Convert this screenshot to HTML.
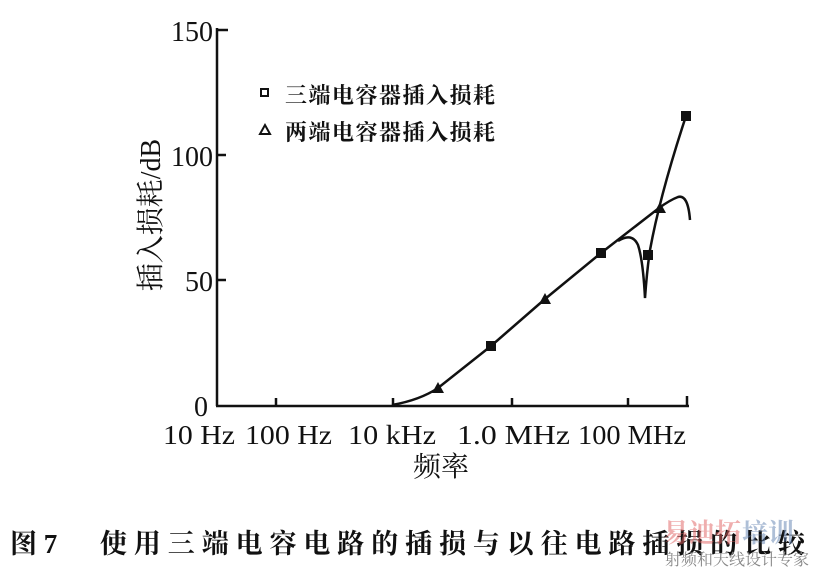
<!DOCTYPE html>
<html><head><meta charset="utf-8"><style>
body{margin:0;background:#fff;width:817px;height:568px;overflow:hidden}
svg text{font-family:"Liberation Serif","Noto Serif CJK SC",serif;fill:#111}
</style></head><body>
<svg width="817" height="568" viewBox="0 0 817 568" xmlns="http://www.w3.org/2000/svg">
<g stroke="#111" stroke-width="2.5" fill="none">
<line x1="217" y1="28" x2="217" y2="406"/>
<line x1="216" y1="406" x2="689" y2="406"/>
<line x1="217" y1="30" x2="228" y2="30"/>
<line x1="217" y1="155" x2="226" y2="155"/>
<line x1="217" y1="280" x2="226" y2="280"/>
<line x1="276" y1="406" x2="276" y2="398"/>
<line x1="393" y1="406" x2="393" y2="398"/>
<line x1="512" y1="406" x2="512" y2="398"/>
<line x1="628" y1="406" x2="628" y2="398"/>
<line x1="687" y1="406" x2="687" y2="396"/>
<path d="M392 405 Q420 400 438 388 L491 346 L545 299 L601 253 L659 208 Q670 200 678 197 Q688 194 690 220"/>
<path d="M618 241 Q632 232 638 245 Q643 260 645 298 Q647 270 650 250 Q660 195 686 116"/>
</g>
<g fill="#111">
<rect x="486" y="341" width="10" height="10"/><rect x="596" y="248" width="10" height="10"/><rect x="643" y="250" width="10" height="10"/><rect x="681" y="111" width="10" height="10"/>
<polygon points="438,382 432,393 444,393"/><polygon points="545,293 539,304 551,304"/><polygon points="660,202 654,213 666,213"/>
</g>
<rect x="261" y="89" width="7" height="7" fill="none" stroke="#111" stroke-width="2"/>
<polygon points="265,125 260,134 270,134" fill="none" stroke="#111" stroke-width="2"/>
<text x="285" y="103" font-size="22" font-weight="bold" textLength="210">三端电容器插入损耗</text>
<text x="285" y="140" font-size="22" font-weight="bold" textLength="210">两端电容器插入损耗</text>
<g font-size="28" text-anchor="end">
<text x="213" y="41">150</text><text x="213" y="166">100</text><text x="213" y="291">50</text><text x="208" y="416">0</text>
</g>
<g font-size="27">
<text x="163" y="444" textLength="72" lengthAdjust="spacingAndGlyphs">10 Hz</text><text x="245" y="444" textLength="87" lengthAdjust="spacingAndGlyphs">100 Hz</text><text x="348" y="444" textLength="88" lengthAdjust="spacingAndGlyphs">10 kHz</text><text x="457" y="444" textLength="113" lengthAdjust="spacingAndGlyphs">1.0 MHz</text><text x="578" y="444" textLength="108" lengthAdjust="spacingAndGlyphs">100 MHz</text>
</g>
<text x="441" y="476" font-size="28" text-anchor="middle">频率</text>
<text transform="translate(160,215) rotate(-90)" font-size="28" text-anchor="middle">插入损耗/dB</text>
<text x="10" y="553" font-size="27" font-weight="bold">图 7</text>
<text x="100" y="553" font-size="27" font-weight="bold" textLength="705">使用三端电容电路的插损与以往电路插损的比较</text>
<text x="663" y="542" font-size="26" font-weight="bold" style="fill:#e06060;opacity:.5">易迪拓</text>
<text x="742" y="542" font-size="26" font-weight="bold" style="fill:#6080b0;opacity:.5">培训</text>
<text x="665" y="565" font-size="16" style="fill:#888">射频和天线设计专家</text>
</svg>
</body></html>
